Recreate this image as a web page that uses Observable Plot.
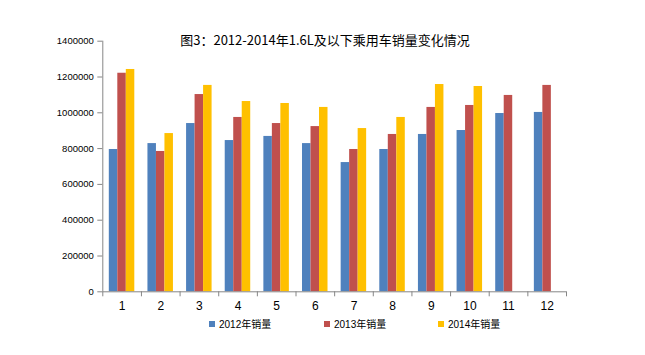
<!DOCTYPE html>
<html>
<head>
<meta charset="utf-8">
<script src="https://cdn.jsdelivr.net/npm/d3@7"></script>
<script src="https://cdn.jsdelivr.net/npm/@observablehq/plot@0.6"></script>
<style>
  body { margin: 0; background: #fff; }
  #wrap { position: relative; width: 645px; height: 355px; background: #fff; overflow: hidden; }
  #title { position: absolute; left: 0; width: 650px; top: 31px; text-align: center; font-family: "Noto Sans CJK SC", sans-serif; font-size: 13px; color: #000; line-height: 18px; }
  #chart { position: absolute; left: 0; top: 0; }
  .leg { position: absolute; top: 318px; font-family: "Liberation Sans", "Noto Sans CJK SC", sans-serif; font-size: 10px; color: #000; line-height: 14px; white-space: nowrap; }
  .leg span.sw { display: inline-block; width: 6px; height: 6px; margin-right: 4px; vertical-align: 1px; }
</style>
</head>
<body>
<div id="wrap">
  <div id="chart"></div>
  <div id="title">图3：2012-2014年1.6L及以下乘用车销量变化情况</div>
  <div id="legend"></div>
</div>
<script>
const months = [1, 2, 3, 4, 5, 6, 7, 8, 9, 10, 11, 12];
const seriesNames = ["2012年销量", "2013年销量", "2014年销量"];
const sales2012 = [795000, 828000, 940000, 845000, 868000, 828000, 722000, 795000, 879000, 901000, 996000, 1002000];
const sales2013 = [1221000, 784000, 1102000, 974000, 940000, 923000, 795000, 879000, 1030000, 1041000, 1097000, 1153000];
const sales2014 = [1242000, 884000, 1153000, 1063000, 1052000, 1030000, 912000, 974000, 1158000, 1147000, null, null];
const yTicks = [0, 200000, 400000, 600000, 800000, 1000000, 1200000, 1400000];
const colors = ["#4F81BD", "#C0504D", "#FFC000"];

const W = 645, H = 312, mL = 102.3, mR = 79, mT = 40.7, mB = 20.7;
const step = (W - mL - mR) / months.length;
const gray = "#868686";

const toRows = (vals) => months.map((m, i) => ({month: m, value: vals[i]})).filter(d => d.value != null);
const allSeries = [sales2012, sales2013, sales2014].map(toRows);

const barOff = 6.5, barW = 8.5;
const barMarks = allSeries.map((rows, k) => Plot.barY(rows, {
  x: "month", y: "value", fill: colors[k],
  insetLeft: barOff + k * barW,
  insetRight: step - (barOff + (k + 1) * barW)
}));

const chart = Plot.plot({
  width: W, height: H,
  marginLeft: mL, marginRight: mR, marginTop: mT, marginBottom: mB,
  style: { fontFamily: "'Liberation Sans', Arial, sans-serif", color: "#000", background: "transparent" },
  x: { type: "band", domain: months, padding: 0, round: false, axis: null },
  y: { domain: [0, 1400000], axis: null },
  marks: [
    ...barMarks,
    Plot.ruleY([0], { stroke: gray }),
    Plot.ruleX([months[0]], { dx: -step / 2, stroke: gray }),
    Plot.axisY({ ticks: yTicks, tickSize: 5, tickPadding: 4, fontSize: 9.5, tickFormat: d => String(d), stroke: gray, fill: "#000", label: null }),
    Plot.axisX({ tickSize: 0, tickPadding: 10, fontSize: 12, fill: "#000", label: null }),
    Plot.axisX({ ticks: months, tickSize: 5, tickFormat: () => "", dx: -step / 2, stroke: gray, label: null }),
    Plot.axisX({ ticks: [months[months.length - 1]], tickSize: 5, tickFormat: () => "", dx: step / 2, stroke: gray, label: null })
  ]
});
document.getElementById("chart").appendChild(chart);

const legX = [209, 324, 438];
const leg = document.getElementById("legend");
seriesNames.forEach((name, i) => {
  const d = document.createElement("div");
  d.className = "leg";
  d.style.left = legX[i] + "px";
  d.innerHTML = `<span class="sw" style="background:${colors[i]}"></span>${name}`;
  leg.appendChild(d);
});
</script>
</body>
</html>
